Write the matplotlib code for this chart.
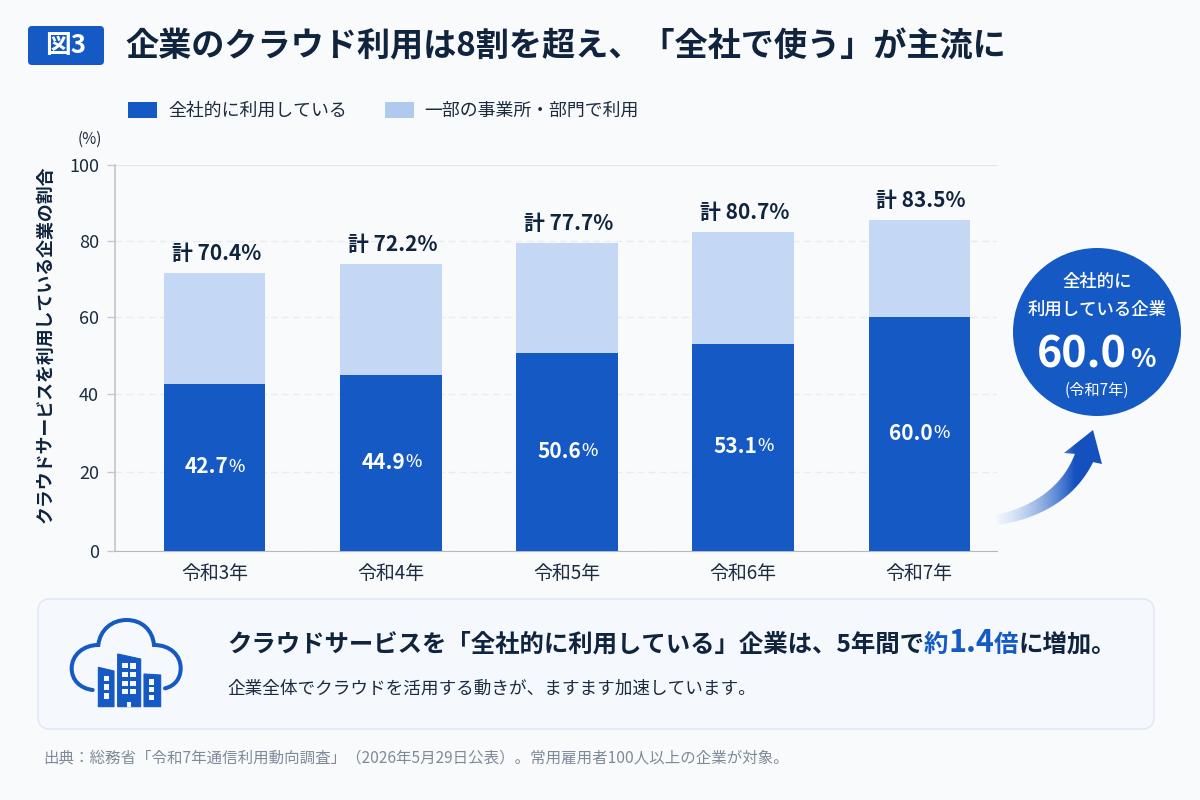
import numpy as np
import matplotlib
matplotlib.use("Agg")
import matplotlib.pyplot as plt
from matplotlib.patches import FancyBboxPatch, Circle, PathPatch, Polygon, Rectangle
from matplotlib.path import Path

plt.rcParams['font.family'] = ['Noto Sans CJK JP', 'DejaVu Sans']

# ---- data ----
years = ['令和3年', '令和4年', '令和5年', '令和6年', '令和7年']
company_wide = [42.7, 44.9, 50.6, 53.1, 60.0]
partial = [28.9, 29.1, 28.9, 29.3, 25.5]          # (segment heights)
total_labels = [70.4, 72.2, 77.7, 80.7, 83.5]
y_ticks = [0, 20, 40, 60, 80, 100]
# the reference's gridlines are very slightly unevenly spaced (pixels above the baseline)
y_tick_px = [0, 79, 157, 234, 310, 386]

DARK = '#1459C4'
LIGHT = '#C4D7F5'
LEGEND_LIGHT = '#B0C9EE'
NAVY = '#10243E'
BG = '#F9FAFC'

fig = plt.figure(figsize=(12, 8), dpi=100, facecolor=BG)

# chart axes, placed at the reference's plot area
ax = fig.add_axes([115 / 1200, (800 - 551) / 800, (997 - 115) / 1200, 386 / 800])
ax.set_facecolor('none')
ax.set_yscale('function', functions=(lambda v: np.interp(v, y_ticks, y_tick_px),
                                     lambda p: np.interp(p, y_tick_px, y_ticks)))
x = np.arange(len(years))
ax.bar(x, company_wide, width=0.574, color=DARK, zorder=3, label='全社的に利用している')
ax.bar(x, partial, width=0.574, bottom=company_wide, color=LIGHT, zorder=3,
       label='一部の事業所・部門で利用')
ax.set_xlim(-0.568, 4.443)
ax.set_ylim(0, 100)
ax.set_yticks(y_ticks)
ax.minorticks_off()
ax.set_xticks(x, years)
ax.tick_params(axis='x', length=0, pad=8.5, labelsize=13.6, labelcolor='#1C2B3E')
ax.tick_params(axis='y', length=6, width=1, color='#C4C9D1', pad=5.5, labelsize=13,
               labelcolor='#1C2B3E')
ax.grid(axis='y', color='#E8EBEF', lw=1, ls=(0, (5, 3)), zorder=0)
ax.get_ygridlines()[-1].set_linestyle('-')
ax.get_ygridlines()[-1].set_color('#E4E6EA')
ax.set_axisbelow(True)
for s in ('top', 'right'):
    ax.spines[s].set_visible(False)
ax.spines['left'].set_color('#C0C4CC')
ax.spines['left'].set_linewidth(1.2)
ax.spines['bottom'].set_color('#B4BAC4')

for i, (d, p, t) in enumerate(zip(company_wide, partial, total_labels)):
    ax.annotate(f'計 {t:.1f}%', (i, d + p), xytext=(1, 6.5), textcoords='offset points',
                ha='center', va='bottom', fontsize=15, fontweight='bold', color=NAVY, zorder=5)
    ax.annotate(f'{d:.1f}', (i, d / 2), xytext=(10, 0), textcoords='offset points',
                ha='right', va='center', fontsize=15, fontweight='bold', color='white', zorder=5)
    ax.annotate('%', (i, d / 2), xytext=(10, 0), textcoords='offset points',
                ha='left', va='center', fontsize=12.5, fontweight='medium', color='white', zorder=5)

# real legend built from the bars
handles, labels = ax.get_legend_handles_labels()
fig.legend(handles, labels, ncol=2, frameon=False, loc='center left',
           bbox_to_anchor=(128 / 1200, 1 - 111 / 800), fontsize=12.9, labelcolor='#1C2B3E',
           borderpad=0, borderaxespad=0,
           handlelength=1.62, handleheight=1.05, handletextpad=0.62, columnspacing=2.1)
leg = fig.legends[0]
leg.legend_handles[1].set_facecolor(LEGEND_LIGHT)

# overlay in reference pixel coordinates
ov = fig.add_axes([0, 0, 1, 1], zorder=10)
ov.set_xlim(0, 1200)
ov.set_ylim(800, 0)
ov.axis('off')
renderer = fig.canvas.get_renderer()


def runs(x0, y0, parts):
    """Place consecutive text runs on a common baseline, left to right."""
    cx = x0
    for s, size, weight, color in parts:
        t = ov.text(cx, y0, s, fontsize=size, fontweight=weight, color=color,
                    ha='left', va='baseline')
        cx += t.get_window_extent(renderer).width
    return cx


# header
ov.add_patch(FancyBboxPatch((31, 29), 70, 33, boxstyle='round,pad=3,rounding_size=4',
                            fc=DARK, ec='none'))
ov.text(65.5, 45.5, '図3', color='white', fontsize=18.5, fontweight='bold', ha='center', va='center')
ov.text(125, 47, '企業のクラウド利用は8割を超え、「全社で使う」が主流に', color=NAVY,
        fontsize=23.9, fontweight='bold', ha='left', va='center')

# axis captions
ov.text(90, 139, '(%)', fontsize=11, color='#1C2B3E', ha='center', va='center')
ov.text(46, 344, 'クラウドサービスを利用している企業の割合', fontsize=12.9, fontweight='bold',
        color=NAVY, rotation=90, ha='center', va='center')

# callout
ov.add_patch(Circle((1097, 332), 84, fc=DARK, ec='none'))
ov.text(1097, 282, '全社的に', color='white', fontsize=12.5, fontweight='medium', ha='center', va='center')
ov.text(1097, 310, '利用している企業', color='white', fontsize=12.5, fontweight='medium', ha='center', va='center')
ov.text(1127, 367, '60.0', color='white', fontsize=31, fontweight='bold', ha='right', va='baseline')
ov.text(1130, 367, '%', color='white', fontsize=19, fontweight='bold', ha='left', va='baseline')
ov.text(1097, 390, '(令和7年)', color='white', fontsize=11, ha='center', va='center')

# gradient arrow
t = np.linspace(0, 1, 60)[:, None]
P = np.array([[997, 520], [1040, 512], [1070, 490], [1084, 458]], float)
c = (1 - t) ** 3 * P[0] + 3 * (1 - t) ** 2 * t * P[1] + 3 * (1 - t) * t ** 2 * P[2] + t ** 3 * P[3]
d = np.gradient(c, axis=0)
n = np.c_[-d[:, 1], d[:, 0]] / np.linalg.norm(d, axis=1)[:, None]
w = (5 + 5 * t)
outline = np.vstack([c + n * w, [[1102, 464], [1093, 430], [1064, 453]], (c - n * w)[::-1]])
poly = Polygon(outline, closed=True, fc='none', ec='none')
ov.add_patch(poly)
gx = np.linspace(990, 1110, 240)
alpha = np.clip((gx - 990) / 85, 0, 1) ** 1.1
rgba = np.zeros((1, 240, 4))
start, end = np.array([0.55, 0.70, 0.92]), np.array([0.08, 0.32, 0.75])
mix = np.clip((gx - 990) / 85, 0, 1)[:, None]
rgba[0, :, :3] = start * (1 - mix) + end * mix
rgba[0, :, 3] = alpha
im = ov.imshow(rgba, extent=(990, 1110, 540, 420), aspect='auto', interpolation='bilinear', zorder=4)
im.set_clip_path(poly)
ov.set_xlim(0, 1200)
ov.set_ylim(800, 0)

# bottom panel
ov.add_patch(FancyBboxPatch((46, 607), 1100, 114, boxstyle='round,pad=8,rounding_size=12',
                            fc='#F5F8FD', ec='#DFE7F3', lw=1))
runs(227, 652, [('クラウドサービスを「全社的に利用している」企業は、5年間で', 17.6, 'bold', NAVY),
                ('約', 17.6, 'bold', DARK), ('1.4', 22, 'bold', DARK), ('倍', 17.6, 'bold', DARK),
                ('に増加。', 17.6, 'bold', NAVY)])
ov.text(227, 689, '企業全体でクラウドを活用する動きが、ますます加速しています。', fontsize=12.7,
        color='#1C2B3E', ha='left', va='center')
ov.text(43, 758, '出典：総務省「令和7年通信利用動向調査」（2026年5月29日公表）。常用雇用者100人以上の企業が対象。',
        fontsize=11.15, color='#7F8A99', ha='left', va='center')


# cloud + buildings icon (reference zoom coordinates: x/3+30, y/3+590)
def z(px, py):
    return (px / 3 + 30, py / 3 + 590)


verts = [z(188, 300),
         z(150, 295), z(125, 270), z(125, 235),
         z(125, 195), z(160, 165), z(205, 165),
         z(210, 120), z(245, 90), z(290, 90),
         z(335, 90), z(368, 120), z(372, 165),
         z(420, 165), z(452, 195), z(452, 235),
         z(452, 265), z(435, 288), z(405, 295)]
codes = [Path.MOVETO] + [Path.CURVE4] * 18
ov.add_patch(PathPatch(Path(verts, codes), fc='none', ec=DARK, lw=2.9, capstyle='round'))
for pts in ([(205, 232), (252, 243), (252, 350), (205, 350)],
            [(263, 192), (332, 207), (332, 350), (263, 350)],
            [(342, 252), (392, 255), (392, 350), (342, 350)]):
    ov.add_patch(Polygon([z(*p) for p in pts], closed=True, fc=DARK, ec=DARK, lw=0.8))
for (wx, wy) in [(229, 265), (229, 291), (229, 318), (365, 276), (365, 298), (365, 322),
                 (285, 226), (309, 228), (285, 254), (309, 254), (285, 280), (309, 280),
                 (285, 305), (309, 305)]:
    a, b = z(wx - 8, wy - 8)
    ov.add_patch(Rectangle((a, b), 16 / 3, 16 / 3, fc='#F5F8FD', ec='none'))
a, b = z(290, 337)
ov.add_patch(Rectangle((a, b), 14 / 3, 14 / 3, fc='#F5F8FD', ec='none'))

fig.savefig('out.png', dpi=100, facecolor=BG)
